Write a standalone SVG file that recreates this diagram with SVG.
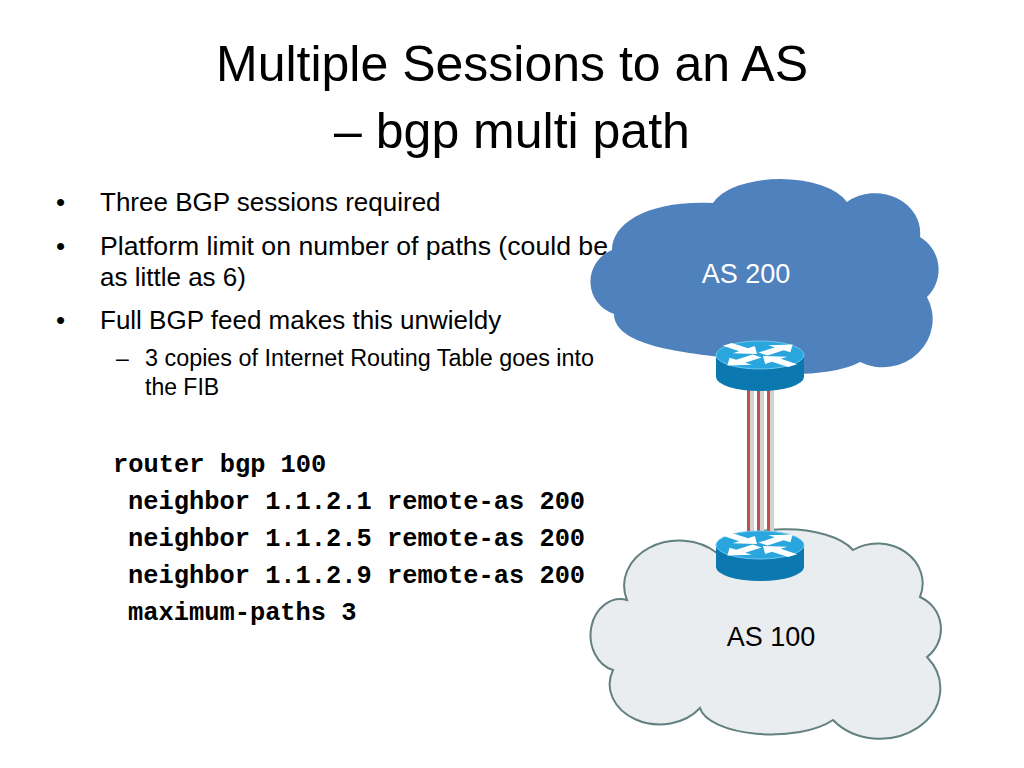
<svg xmlns="http://www.w3.org/2000/svg" xmlns:xlink="http://www.w3.org/1999/xlink" width="1024" height="768" viewBox="0 0 1024 768">
<style>
.title{font-family:"Liberation Sans",Arial,sans-serif;font-size:50px;fill:#000;text-anchor:middle}
.b1{font-family:"Liberation Sans",Arial,sans-serif;font-size:26px;fill:#000}
.b2{font-family:"Liberation Sans",Arial,sans-serif;font-size:23px;fill:#000}
.code{font-family:"Liberation Mono","Courier New",monospace;font-size:25.4px;font-weight:bold;fill:#000}
.lbl{font-family:"Liberation Sans",Arial,sans-serif;font-size:27px;text-anchor:middle}
.shadow{stroke:#d2d2d2;stroke-width:7;fill:none}
.link{stroke:#c0504d;stroke-width:3;fill:none}
</style>
<defs>
<g id="router">
<path d="M-44,0 L-44,22 A44,14 0 0 0 44,22 L44,0 Z" fill="#0b78b0"/>
<ellipse cx="0" cy="0" rx="44" ry="14" fill="#2aa6de" stroke="#6cc8ee" stroke-width="1"/>
<g transform="scale(1.05,0.34)" fill="#fff">
<polygon transform="rotate(-135)" points="44,-6 22,-6 22,-15 4,0 22,15 22,6 44,6"/>
<polygon transform="rotate(45)" points="44,-6 22,-6 22,-15 4,0 22,15 22,6 44,6"/>
<polygon transform="rotate(-45)" points="4,-6 26,-6 26,-15 44,0 26,15 26,6 4,6"/>
<polygon transform="rotate(135)" points="4,-6 26,-6 26,-15 44,0 26,15 26,6 4,6"/>
</g>
</g>
</defs>
<rect width="1024" height="768" fill="#fff"/>

<text class="title" x="512" y="81">Multiple Sessions to an AS</text>
<text class="title" x="512" y="148">– bgp multi path</text>

<g id="bullets">
<text class="b1" x="56" y="211">•</text>
<text class="b1" x="100" y="211">Three BGP sessions required</text>
<text class="b1" x="56" y="255">•</text>
<text class="b1" x="100" y="255" textLength="508" lengthAdjust="spacingAndGlyphs">Platform limit on number of paths (could be</text>
<text class="b1" x="100" y="286">as little as 6)</text>
<text class="b1" x="56" y="329">•</text>
<text class="b1" x="100" y="329">Full BGP feed makes this unwieldy</text>
<text class="b2" x="116" y="366">–</text>
<text class="b2" x="145" y="366" textLength="449" lengthAdjust="spacingAndGlyphs">3 copies of Internet Routing Table goes into</text>
<text class="b2" x="145" y="395">the FIB</text>
</g>

<g id="config">
<text class="code" x="113" y="472">router bgp 100</text>
<text class="code" x="128" y="509">neighbor 1.1.2.1 remote-as 200</text>
<text class="code" x="128" y="546">neighbor 1.1.2.5 remote-as 200</text>
<text class="code" x="128" y="583">neighbor 1.1.2.9 remote-as 200</text>
<text class="code" x="128" y="620">maximum-paths 3</text>
</g>

<g id="as200">
<path d="M614,314 A34,34 0 0 1 612,250 C612,222 650,200 713,203 A70,33 0 0 1 847,202 A45,40 0 0 1 920,237 A38,38 0 0 1 927,297 A50,48 0 0 1 860,362 A75,22 0 0 1 720,357 C680,352 614,345 614,314 Z" fill="#4f81bd"/>
<text class="lbl" x="746" y="283" fill="#fff">AS 200</text>
</g>

<g id="as100">
<path d="M613,670 A30,36 0 0 1 627,600 A55,45 0 0 1 717,553 A72,33 0 0 1 853,550 A45,40 0 0 1 920,597 A35,35 0 0 1 927,657 A60,50 0 0 1 833,720 A72,30 0 0 1 700,708 A50,40 0 0 1 613,670 Z" fill="#eaedf0" stroke="#62807f" stroke-width="2"/>
<text class="lbl" x="771" y="646" fill="#000">AS 100</text>
</g>

<g id="connectors">
<line class="shadow" x1="750.5" y1="385" x2="750.5" y2="540"/>
<line class="shadow" x1="760.5" y1="385" x2="760.5" y2="540"/>
<line class="shadow" x1="770.5" y1="385" x2="770.5" y2="540"/>
<line class="link" x1="748.5" y1="385" x2="748.5" y2="540"/>
<line class="link" x1="758.5" y1="385" x2="758.5" y2="540"/>
<line class="link" x1="768.5" y1="385" x2="768.5" y2="540"/>
</g>

<g id="router-as200"><use xlink:href="#router" href="#router" transform="translate(760,355)"/></g>
<g id="router-as100"><use xlink:href="#router" href="#router" transform="translate(760,545)"/></g>
</svg>
